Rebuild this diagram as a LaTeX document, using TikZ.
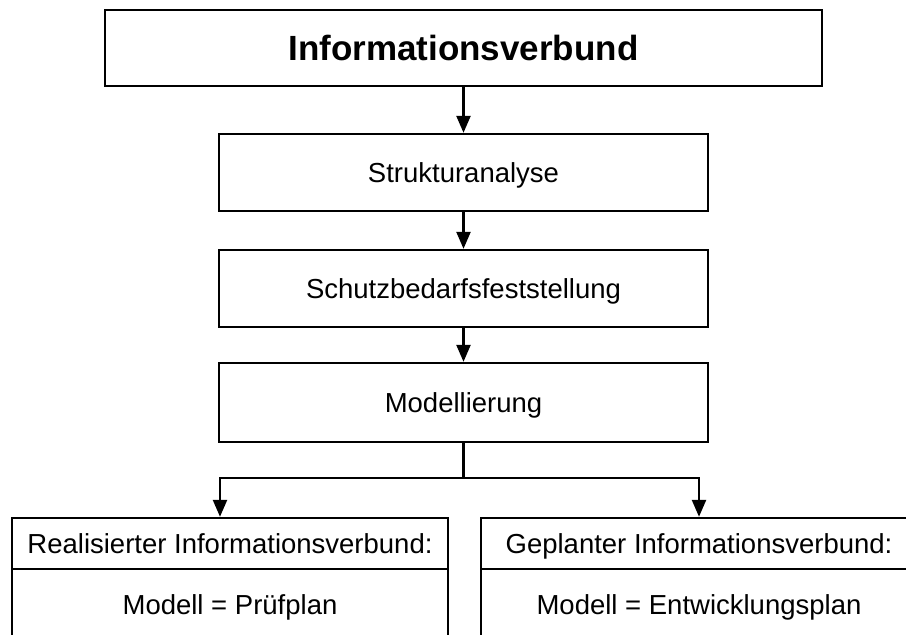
\documentclass[tikz,border=0pt]{standalone}
\usepackage{fontspec}
\setmainfont{Liberation Sans}
\usetikzlibrary{arrows.meta}
\begin{document}
\begin{tikzpicture}[x=1pt,y=-1pt,
  box/.style={draw,line width=2.4pt,rectangle,inner sep=0pt,text height=19.7pt,text depth=0pt,font=\fontsize{27.5}{32}\selectfont},
  conn/.style={line width=2.4pt,-{Triangle[width=14pt,length=17pt]}}]
\useasboundingbox (0,0) rectangle (906,635);
\clip (0,0) rectangle (906,635);
\node[box,minimum width=717pt,minimum height=76pt,text height=25pt,font=\fontsize{35}{40}\selectfont\bfseries] (iv) at (463.5,48) {Informationsverbund};
\node[box,minimum width=489pt,minimum height=77pt] (sa) at (463.5,172.5) {Strukturanalyse};
\node[box,minimum width=489pt,minimum height=77pt] (sb) at (463.5,288.5) {Schutzbedarfsfeststellung};
\node[box,minimum width=489pt,minimum height=79pt] (mo) at (463.5,402.5) {Modellierung};
\node[box,minimum width=436pt,minimum height=51pt] (rh) at (230,543.5) {Realisierter Informationsverbund:};
\node[box,minimum width=436pt,minimum height=72pt,anchor=north] (rb) at ([yshift=2.4pt]rh.south) {Modell = Prüfplan};
\node[box,minimum width=436pt,minimum height=51pt] (gh) at (699,543.5) {Geplanter Informationsverbund:};
\node[box,minimum width=436pt,minimum height=72pt,anchor=north] (gb) at ([yshift=2.4pt]gh.south) {Modell = Entwicklungsplan};
\coordinate (split) at (463.5,478);
\draw[conn] (iv.south) -- (sa.north);
\draw[conn] (sa.south) -- (sb.north);
\draw[conn] (sb.south) -- (mo.north);
\draw[line width=2.4pt] (mo.south) -- (split);
\draw[conn] (split) -| (rh.north-|220,0);
\draw[conn] (split) -| (gh.north-|699,0);
\end{tikzpicture}
\end{document}
